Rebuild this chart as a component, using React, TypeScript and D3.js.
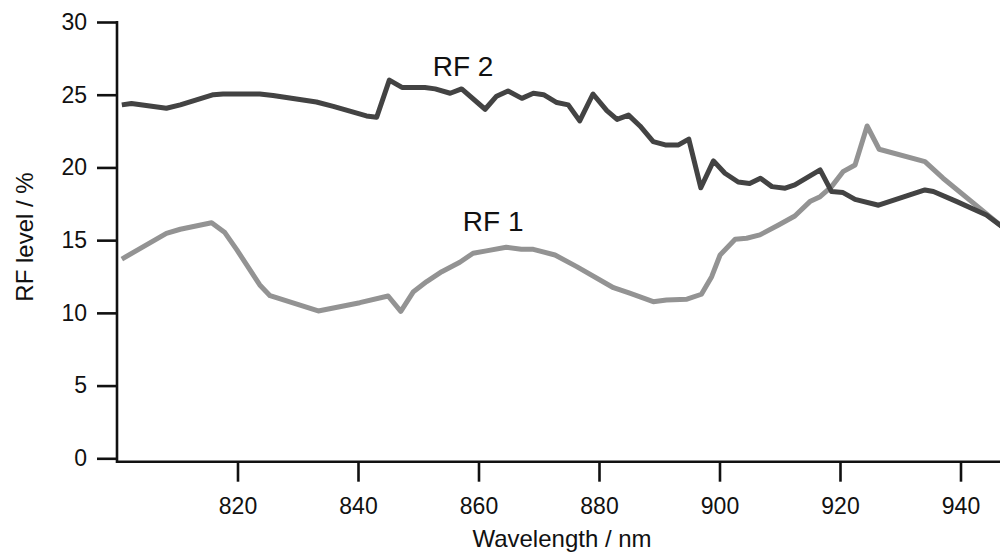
import React, { useRef, useEffect } from 'react';
import * as d3 from 'd3';

// wavelength (nm) and RF level (%)
const rf1Wavelength = [800.8, 808.2, 810.5, 815.7, 817.9, 819.9, 823.7, 825.4, 833.4, 840.3, 845.0, 847.1, 849.2, 851.4, 853.9, 856.9, 859.1, 861.3, 864.6, 867.1, 869.1, 872.7, 876.3, 882.4, 885.1, 889.0, 891.2, 894.6, 897.0, 898.7, 900.1, 902.6, 904.5, 906.7, 909.8, 912.5, 915.0, 916.7, 918.6, 920.5, 922.5, 924.5, 926.5, 934.1, 937.1, 947.0];
const rf1Values = [13.7, 15.47, 15.75, 16.2, 15.52, 14.33, 11.92, 11.18, 10.13, 10.7, 11.16, 10.1, 11.46, 12.15, 12.83, 13.48, 14.1, 14.26, 14.51, 14.37, 14.37, 13.98, 13.18, 11.73, 11.35, 10.77, 10.89, 10.94, 11.28, 12.49, 13.98, 15.06, 15.13, 15.36, 16.04, 16.66, 17.65, 17.99, 18.68, 19.71, 20.17, 22.85, 21.25, 20.4, 19.26, 15.9];

const rf2Wavelength = [800.8, 802.4, 808.2, 810.5, 816.0, 817.6, 823.7, 825.9, 833.1, 835.9, 841.4, 843.1, 845.2, 847.3, 851.1, 852.8, 855.3, 857.2, 861.1, 863.0, 864.9, 867.2, 869.1, 870.8, 873.0, 874.9, 876.8, 879.0, 881.3, 883.0, 884.9, 886.8, 889.0, 891.0, 893.2, 894.9, 896.9, 899.0, 900.9, 903.1, 905.0, 906.8, 908.7, 910.9, 912.5, 916.7, 918.6, 920.5, 922.5, 926.4, 934.1, 935.5, 939.4, 944.3, 947.0];
const rf2Values = [24.3, 24.4, 24.07, 24.3, 25.0, 25.05, 25.05, 24.95, 24.5, 24.2, 23.54, 23.45, 26.0, 25.5, 25.5, 25.4, 25.1, 25.4, 24.0, 24.9, 25.26, 24.75, 25.1, 25.0, 24.46, 24.3, 23.2, 25.05, 23.9, 23.3, 23.6, 22.85, 21.78, 21.55, 21.55, 21.95, 18.6, 20.45, 19.6, 19.0, 18.9, 19.26, 18.68, 18.57, 18.8, 19.83, 18.34, 18.27, 17.8, 17.4, 18.45, 18.34, 17.65, 16.73, 15.9];

const xTicks = [820, 840, 860, 880, 900, 920, 940];
const yTicks = [0, 5, 10, 15, 20, 25, 30];

const W = 1000;
const H = 553;
const FONT = '"Liberation Sans", Arial, sans-serif';

const App = () => {
  const svgRef = useRef<SVGSVGElement>(null);

  useEffect(() => {
    const svg = d3.select(svgRef.current);
    svg.selectAll('*').remove();

    const x = d3.scaleLinear().domain([800, 947]).range([117, 117 + 147 * 6.025]);
    const y = d3.scaleLinear().domain([0, 30]).range([458.3, 22]);
    const axisY = y(0) + 3.4;

    svg.append('defs').append('clipPath').attr('id', 'plot')
      .append('rect').attr('x', 117).attr('y', 0).attr('width', W - 117).attr('height', H);

    // x axis
    const gx = svg.append('g')
      .attr('transform', `translate(0,${axisY})`)
      .call(d3.axisBottom(x).tickValues(xTicks).tickSize(20).tickPadding(16).tickSizeOuter(0));
    gx.select('.domain').remove();
    gx.selectAll('line').attr('stroke', '#111').attr('stroke-width', 2.6);
    gx.selectAll('text').attr('font-family', FONT).attr('font-size', 23).attr('fill', '#111');

    // y axis
    const gy = svg.append('g')
      .attr('transform', 'translate(117,0)')
      .call(d3.axisLeft(y).tickValues(yTicks).tickSize(20).tickPadding(10).tickSizeOuter(0));
    gy.select('.domain').remove();
    gy.selectAll('line').attr('stroke', '#111').attr('stroke-width', 2.6);
    gy.selectAll('text').attr('font-family', FONT).attr('font-size', 23).attr('fill', '#111');

    svg.append('line')
      .attr('x1', 117).attr('x2', 117).attr('y1', y(30) - 1).attr('y2', axisY + 1.3)
      .attr('stroke', '#111').attr('stroke-width', 2.6);
    svg.append('line')
      .attr('x1', 116).attr('x2', W).attr('y1', axisY).attr('y2', axisY)
      .attr('stroke', '#111').attr('stroke-width', 2.6);

    const line = d3.line<[number, number]>().x(d => x(d[0])).y(d => y(d[1]));

    const series = [
      { wl: rf1Wavelength, v: rf1Values, color: '#939393' },
      { wl: rf2Wavelength, v: rf2Values, color: '#434343' },
    ];
    const plot = svg.append('g').attr('clip-path', 'url(#plot)');
    series.forEach(s => {
      plot.append('path')
        .datum(s.wl.map((w, i) => [w, s.v[i]] as [number, number]))
        .attr('d', line)
        .attr('fill', 'none')
        .attr('stroke', s.color)
        .attr('stroke-width', 5)
        .attr('stroke-linejoin', 'round');
    });

    svg.append('text')
      .attr('x', x(852.4)).attr('y', y(26.3))
      .attr('font-family', FONT).attr('font-size', 28).attr('fill', '#111')
      .text('RF 2');
    svg.append('text')
      .attr('x', x(857.4)).attr('y', y(15.65))
      .attr('font-family', FONT).attr('font-size', 28).attr('fill', '#111')
      .text('RF 1');

    svg.append('text')
      .attr('x', 562).attr('y', 547)
      .attr('text-anchor', 'middle')
      .attr('font-family', FONT).attr('font-size', 24).attr('fill', '#111')
      .text('Wavelength / nm');
    svg.append('text')
      .attr('transform', 'translate(33,237) rotate(-90)')
      .attr('text-anchor', 'middle')
      .attr('font-family', FONT).attr('font-size', 24).attr('fill', '#111')
      .text('RF level / %');
  }, []);

  return (
    <div style={{ position: 'absolute', left: 0, top: 0 }}>
      <svg ref={svgRef} width={W} height={H} style={{ display: 'block', background: '#fff' }}></svg>
    </div>
  );
};

export default App;
